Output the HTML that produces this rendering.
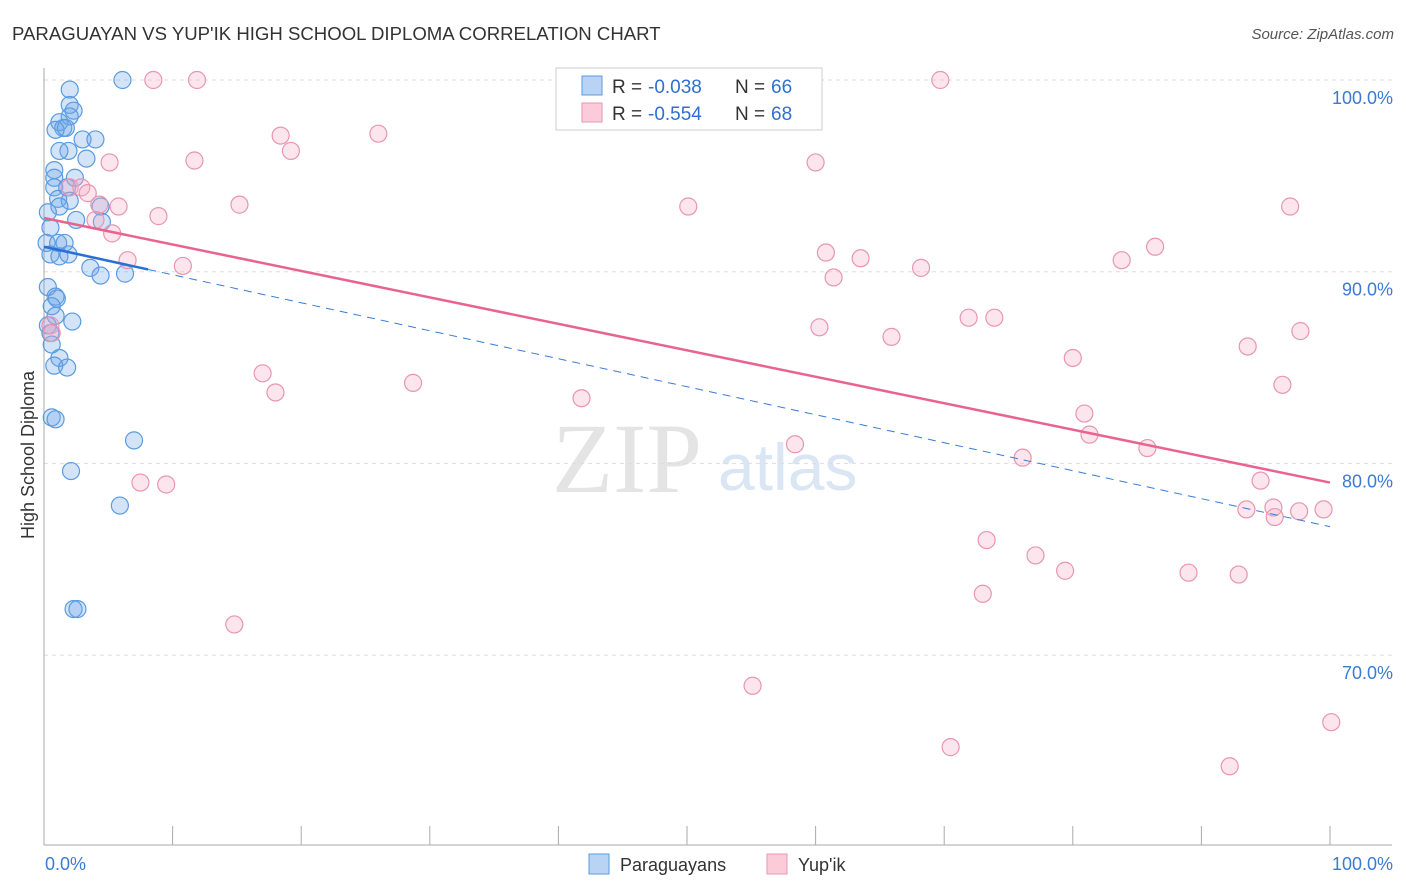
<!DOCTYPE html>
<html><head><meta charset="utf-8"><style>
body{margin:0;background:#fff;font-family:"Liberation Sans",sans-serif;}
svg{display:block}
</style></head><body>
<svg id="chart" width="1406" height="892">
<text x="12" y="40" font-size="18.6" fill="#333">PARAGUAYAN VS YUP'IK HIGH SCHOOL DIPLOMA CORRELATION CHART</text>
<text x="1394" y="39" font-size="15" fill="#555" font-style="italic" text-anchor="end">Source: ZipAtlas.com</text>
<text transform="translate(34,455) rotate(-90)" font-size="18" fill="#333" text-anchor="middle">High School Diploma</text>
<text x="552" y="492" font-size="100" fill="#e4e4e4" font-family="Liberation Serif,serif">ZIP</text>
<text x="718" y="490" font-size="66" fill="#dbe6f5">atlas</text>
<g id="grid"></g><g id="marks"></g>
<g>
<rect x="556" y="68" width="266" height="62" fill="#fff" stroke="#ccc"/>
<rect x="582" y="76" width="20" height="19" fill="#b9d3f5" stroke="#5a9be0"/>
<rect x="582" y="103" width="20" height="19" fill="#fbcbd9" stroke="#e896b0"/>
<text x="612" y="93" font-size="19" fill="#333">R =</text>
<text x="648" y="93" font-size="19" fill="#2f6fd0">-0.038</text>
<text x="735" y="93" font-size="19" fill="#333">N =</text>
<text x="771" y="93" font-size="19" fill="#2f6fd0">66</text>
<text x="612" y="120" font-size="19" fill="#333">R =</text>
<text x="648" y="120" font-size="19" fill="#2f6fd0">-0.554</text>
<text x="735" y="120" font-size="19" fill="#333">N =</text>
<text x="771" y="120" font-size="19" fill="#2f6fd0">68</text>
</g>
<g>
<rect x="589" y="854" width="20" height="20" fill="#b9d3f5" stroke="#5a9be0"/>
<text x="620" y="871" font-size="18" fill="#333">Paraguayans</text>
<rect x="767" y="854" width="20" height="20" fill="#fbcbd9" stroke="#e896b0"/>
<text x="798" y="871" font-size="18" fill="#333">Yup'ik</text>
</g>
</svg>
<script>
const yTicks=[100,90,80,70];
const yTickLabels=["100.0%","90.0%","80.0%","70.0%"];
const xTickLabels=["0.0%","100.0%"];
const blueX=[6.1,2.0,2.0,2.3,2.0,1.2,1.5,0.9,1.7,3.0,4.0,1.9,1.2,3.3,0.8,0.8,2.4,0.8,1.8,1.1,2.0,1.2,4.4,2.5,4.5,0.3,0.5,0.2,1.1,1.6,0.5,1.2,1.9,3.6,4.4,6.3,0.3,0.9,1.0,0.6,0.9,2.2,0.3,0.5,0.6,1.2,0.8,1.8,0.6,0.9,7.0,2.1,5.9,2.3,2.6];
const blueY=[100,99.5,98.7,98.4,98.1,97.8,97.5,97.4,97.5,96.9,96.9,96.3,96.3,95.9,95.3,94.9,94.9,94.4,94.4,93.8,93.7,93.4,93.4,92.7,92.6,93.1,92.3,91.5,91.5,91.5,90.9,90.8,90.9,90.2,89.8,89.9,89.2,88.7,88.6,88.2,87.7,87.4,87.2,86.8,86.2,85.5,85.1,85.0,82.4,82.3,81.2,79.6,77.8,72.4,72.4];
const pinkX=[8.5,11.9,69.7,18.4,26.0,19.2,5.1,11.7,60.0,2.0,2.9,3.4,4.3,5.8,15.2,50.1,96.9,4.0,8.9,5.3,6.5,10.8,60.8,61.4,63.5,68.2,83.8,86.4,71.9,73.9,60.3,65.9,97.7,93.6,80.0,17.0,18.0,28.7,41.8,96.3,80.9,81.3,58.4,85.8,76.1,94.6,7.5,9.5,93.5,95.6,95.7,97.6,99.5,73.3,77.1,79.4,89.0,92.9,73.0,14.8,55.1,70.5,92.2,100.1,0.5,0.6];
const pinkY=[100,100,100,97.1,97.2,96.3,95.7,95.8,95.7,94.4,94.4,94.1,93.5,93.4,93.5,93.4,93.4,92.7,92.9,92.0,90.6,90.3,91.0,89.7,90.7,90.2,90.6,91.3,87.6,87.6,87.1,86.6,86.9,86.1,85.5,84.7,83.7,84.2,83.4,84.1,82.6,81.5,81.0,80.8,80.3,79.1,79.0,78.9,77.6,77.7,77.2,77.5,77.6,76.0,75.2,74.4,74.3,74.2,73.2,71.6,68.4,65.2,64.2,66.5,87.2,86.8];
const pinkTrend=[92.8,79.0];
const blueTrend=[91.3,76.7];
const blueSolidEnd=8.1;

const NS="http://www.w3.org/2000/svg";
const X=v=>44+v*12.86;
const Y=v=>80+(100-v)*19.17;
function mk(tag,attrs,parent){const e=document.createElementNS(NS,tag);for(const k in attrs)e.setAttribute(k,attrs[k]);parent.appendChild(e);return e;}
const grid=document.getElementById('grid'),marks=document.getElementById('marks');
yTicks.forEach((t,i)=>{
 const l=mk('line',{x1:44,x2:1392,y1:Y(t),y2:Y(t),stroke:'#ddd','stroke-dasharray':'4,4'},grid);
 
 
 const tx=mk('text',{x:1393,y:Y(t)+24,'font-size':18,fill:'#3a7bd5','text-anchor':'end'},grid);
 tx.textContent=yTickLabels[i];
 
 
});
const ax=mk('line',{x1:44,x2:44,y1:68,y2:845,stroke:'#aaa'},grid);


const bx=mk('line',{x1:44,x2:1392,y1:845,y2:845,stroke:'#aaa'},grid);


for(let i=0;i<=10;i++){
 const t=mk('line',{x1:X(i*10),x2:X(i*10),y1:826,y2:845,stroke:'#aaa'},grid);
 
 
}
[[0,'start',45],[100,'end',1393]].forEach((a,i)=>{
 const t=mk('text',{x:a[2],y:870,'font-size':18,fill:'#3a7bd5','text-anchor':a[1]},grid);
 t.textContent=xTickLabels[i];
 
 
});
blueX.forEach((v,i)=>{
 const c=mk('circle',{cx:X(v),cy:Y(blueY[i]),r:8.5,fill:'rgba(110,165,232,0.3)',stroke:'#5a9be0','stroke-width':1.2},marks);
 
 
});
pinkX.forEach((v,i)=>{
 const c=mk('circle',{cx:X(v),cy:Y(pinkY[i]),r:8.5,fill:'rgba(245,170,195,0.3)',stroke:'#e896b0','stroke-width':1.2},marks);
 
 
});
const bt=v=>blueTrend[0]+(blueTrend[1]-blueTrend[0])*v/100;
const bd=mk('line',{x1:X(blueSolidEnd),y1:Y(bt(blueSolidEnd)),x2:X(100),y2:Y(bt(100)),stroke:'#3a7bd5','stroke-width':1,'stroke-dasharray':'8,6'},marks);


const bs=mk('line',{x1:X(0),y1:Y(bt(0)),x2:X(blueSolidEnd),y2:Y(bt(blueSolidEnd)),stroke:'#2a6fd6','stroke-width':2.5},marks);


const pt=mk('line',{x1:X(0),y1:Y(pinkTrend[0]),x2:X(100),y2:Y(pinkTrend[1]),stroke:'#e8648f','stroke-width':2.5},marks);


</script>
</body></html>
